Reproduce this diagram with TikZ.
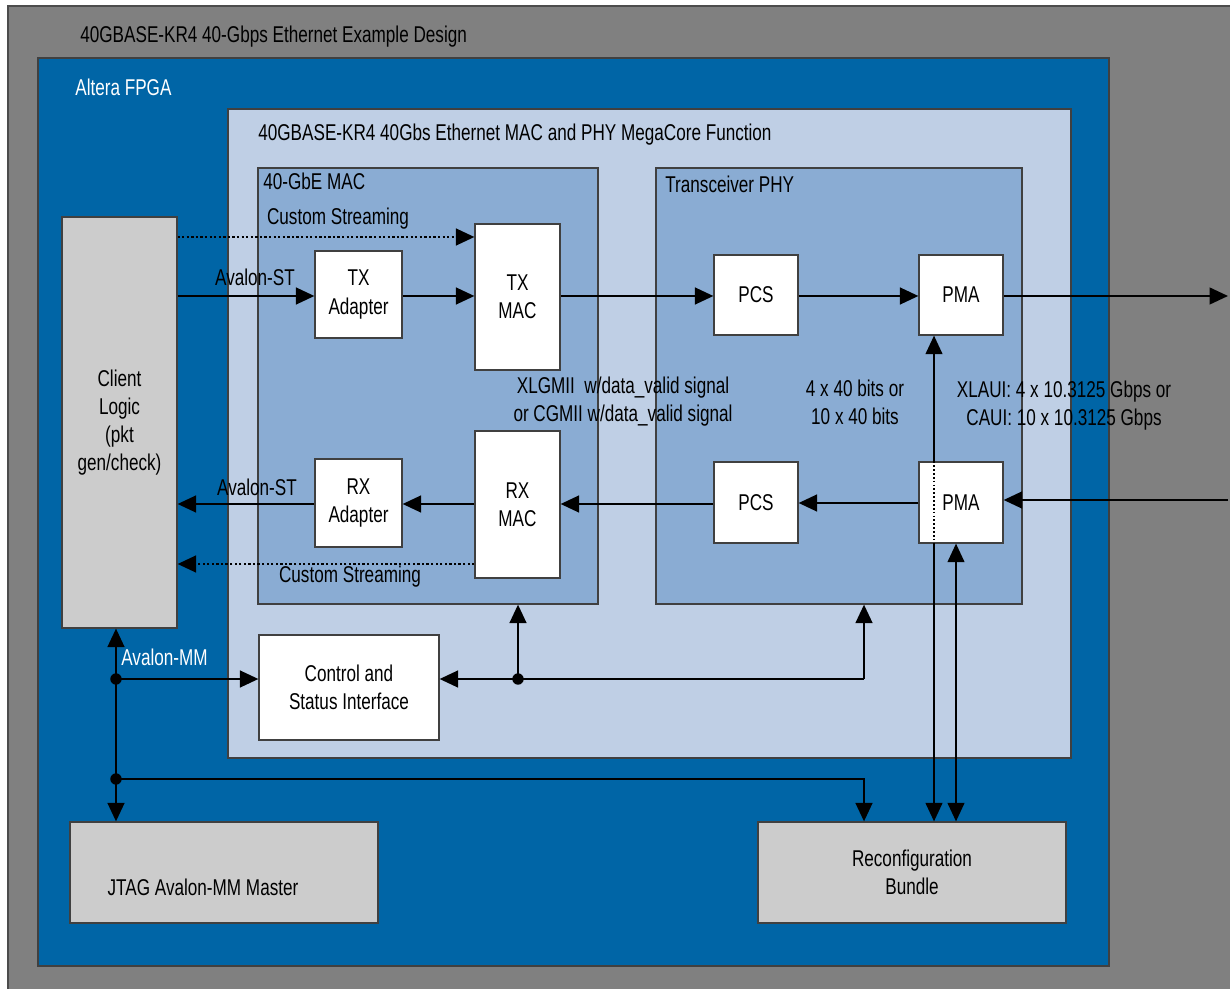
\documentclass[tikz,border=0pt]{standalone}
\usepackage{fontspec}
\setmainfont{Liberation Sans}[FakeStretch=0.75]
\usetikzlibrary{arrows.meta,positioning,fit}
\definecolor{FrameGray}{HTML}{808080}
\definecolor{FpgaBlue}{HTML}{0065A6}
\definecolor{CoreBlue}{HTML}{BFCFE5}
\definecolor{SubBlue}{HTML}{8AACD3}
\definecolor{BoxGray}{HTML}{CCCCCC}
\newcommand{\diagfont}{\fontsize{13}{16}\selectfont}
\tikzset{
  areabox/.style={draw=black!75, line width=0.7pt, inner sep=0pt, fill=#1},
  areabox/.default={white},
  blk/.style={draw=black!75, line width=0.7pt, inner sep=0pt, align=center,
    fill=#1},
  blk/.default={white},
  ttl/.style={anchor=base west, inner sep=0pt},
  sig/.style={-{Triangle[length=10.5pt,width=9.5pt]}, line width=1.3pt},
  bisig/.style={{Triangle[length=10.5pt,width=9.5pt]}-{Triangle[length=10.5pt,width=9.5pt]},
    line width=1.1pt},
  dotsig/.style={sig, dash pattern=on 1.3pt off 1.3pt},
  jdot/.style={circle, fill=black, inner sep=0pt, minimum size=6.5pt},
}

\begin{document}
\begin{tikzpicture}[x=0.02cm, y=-0.02cm, font=\diagfont]
  \useasboundingbox (0,0) rectangle (1230,989);
  \fill[white] (0,0) rectangle (1230,989);

  % nested regions
  \fill[FrameGray] (8,6) rectangle (1230,989);
  \draw[black!70, line width=0.7pt] (8,989) -- (8,6) -- (1230,6);
  \node[ttl] (design-t) at (80,43) {40GBASE-KR4 40-Gbps Ethernet Example Design};

  \node[areabox=FpgaBlue, fit={(38,58) (1109,966)}] (fpga) {};
  \node[ttl, text=white] (fpga-t) at (75,96) {Altera FPGA};

  \node[areabox=CoreBlue, fit={(228,109) (1071,758)}] (core) {};
  \node[ttl] (core-t) at (258,141) {40GBASE-KR4 40Gbs Ethernet MAC and PHY MegaCore Function};

  \node[areabox=SubBlue, fit={(258,168) (598,604)}] (mac) {};
  \node[ttl] (mac-t) at (263,190) {40-GbE MAC};

  \node[areabox=SubBlue, fit={(656,168) (1022,604)}] (phy) {};
  \node[ttl] (phy-t) at (665,193) {Transceiver PHY};

  % blocks
  \node[blk=BoxGray, minimum width=2.3cm, minimum height=8.22cm] (client) at (119.5,422.5) {Client\\Logic\\(pkt\\gen/check)};
  \node[blk, minimum width=1.74cm, minimum height=1.74cm] (txad) at (358.5,294.5) {TX\\Adapter};
  \node[blk, minimum width=1.7cm, minimum height=2.92cm] (txmac) at (517.5,297) {TX\\MAC};
  \node[blk, minimum width=1.74cm, minimum height=1.76cm] (rxad) at (358.5,503) {RX\\Adapter};
  \node[blk, minimum width=1.7cm, minimum height=2.94cm] (rxmac) at (517.5,504.5) {RX\\MAC};
  \node[blk, minimum width=1.68cm, minimum height=1.6cm] (pcsT) at (756,295) {PCS};
  \node[blk, minimum width=1.68cm, minimum height=1.6cm] (pmaT) at (961,295) {PMA};
  \node[blk, minimum width=1.68cm, minimum height=1.62cm] (pcsB) at (756,502.5) {PCS};
  \node[blk, minimum width=3.6cm, minimum height=2.1cm] (ctrl) at (349,687.5) {Control and\\Status Interface};
  \node[blk=BoxGray, minimum width=6.16cm, minimum height=2.02cm] (jtag) at (224,872.5) {};
  \node (jtag-t) at (203,887) {JTAG Avalon-MM Master};
  \node[blk=BoxGray, minimum width=6.16cm, minimum height=2.02cm] (reconf) at (912,872.5) {Reconfiguration\\Bundle};

  % reconfiguration links
  \coordinate (vA) at (934,0);
  \coordinate (vB) at (956,0);
  \draw[bisig] (reconf.north -| vA) -- (pmaT.south -| vA);
  \node[blk, minimum width=1.68cm, minimum height=1.62cm] (pmaB) at (961,502.5) {PMA};
  \draw[line width=1.1pt, dash pattern=on 1pt off 1.2pt] (pmaB.north -| vA) -- (pmaB.south -| vA);
  \draw[bisig] (reconf.north -| vB) -- (pmaB.south -| vB);

  % transmit path
  \coordinate (csT) at (0,237);
  \coordinate (txout) at (1228,0);
  \draw[dotsig] (client.east |- csT) -- (txmac.west |- csT);
  \draw[sig] (client.east |- 0,296) -- (txad.west |- 0,296);
  \draw[sig] (txad.east |- 0,296) -- (txmac.west |- 0,296);
  \draw[sig] (txmac.east |- 0,296) -- (pcsT.west |- 0,296);
  \draw[sig] (pcsT.east |- 0,296) -- (pmaT.west |- 0,296);
  \draw[sig] (pmaT.east |- 0,296) -- (txout |- 0,296);
  \node (cs1) at (338,219) {Custom Streaming};
  \node (ast1) at (255,277) {Avalon-ST};

  % receive path
  \coordinate (rxin) at (1228,500);
  \coordinate (csR) at (0,564);
  \draw[sig] (rxin) -- (pmaB.east |- rxin);
  \draw[sig] (pmaB.west |- 0,503) -- (pcsB.east |- 0,503);
  \draw[sig] (pcsB.west |- 0,504) -- (rxmac.east |- 0,504);
  \draw[sig] (rxmac.west |- 0,504) -- (rxad.east |- 0,504);
  \draw[sig] (rxad.west |- 0,504) -- (client.east |- 0,504);
  \draw[dotsig] (rxmac.west |- csR) -- (client.east |- csR);
  \node (ast2) at (257,487) {Avalon-ST};
  \node (cs2) at (350,577) {Custom Streaming};

  \node[align=center] (xlgmii) at (623,402) {XLGMII~ w/data\_valid signal\\or CGMII w/data\_valid signal};
  \node[align=center] (bits) at (855,402) {4 x 40 bits or\\10 x 40 bits};
  \node[align=center] (xlaui) at (1064,406) {XLAUI: 4 x 10.3125 Gbps or\\CAUI: 10 x 10.3125 Gbps};

  % Avalon-MM bus
  \coordinate (mmA) at (116,679);
  \coordinate (mmB) at (116,779);
  \coordinate (csj) at (518,679);
  \coordinate (csr) at (864,679);
  \draw[bisig, line width=1.3pt] (client.south -| mmA) -- (jtag.north -| mmA);
  \draw[sig] (mmA) -- (ctrl.west |- mmA);
  \draw[sig] (mmB) -| (reconf.north -| csr);
  \draw[sig] (csr) -- (ctrl.east |- csr);
  \draw[sig] (csj) -- (mac.south -| csj);
  \draw[sig] (csr) -- (phy.south -| csr);
  \node[jdot] at (mmA) {};
  \node[jdot] at (mmB) {};
  \node[jdot] at (csj) {};
  \node[text=white, anchor=west, inner sep=0pt] (amm) at (121,657) {Avalon-MM};
\end{tikzpicture}
\end{document}
